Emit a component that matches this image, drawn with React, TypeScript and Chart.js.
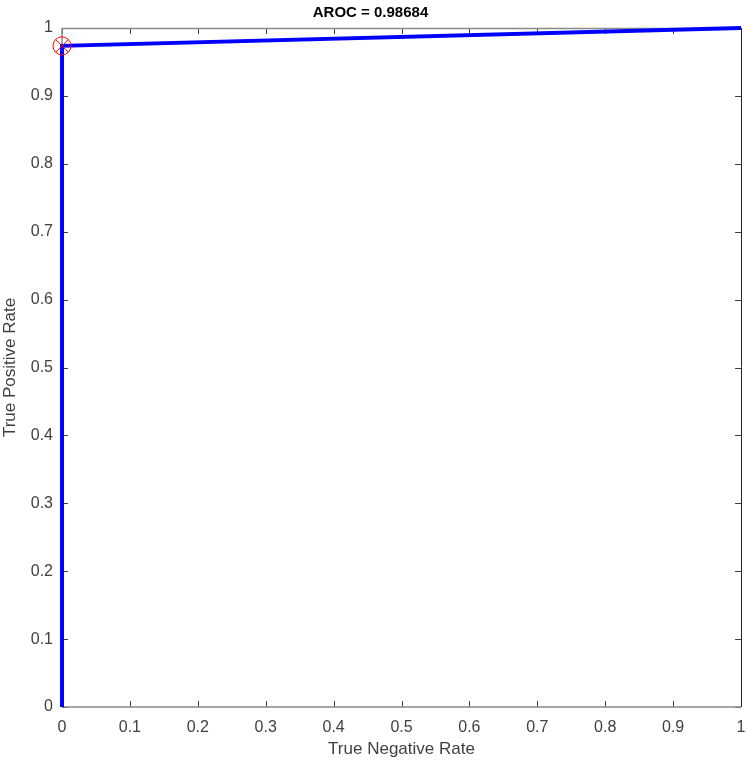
import React, { useEffect, useRef } from "react";
import { Chart, registerables } from "chart.js";

Chart.register(...registerables);

const titleText = "AROC = 0.98684";
const xLabel = "True Negative Rate";
const yLabel = "True Positive Rate";
const rocX = [0, 0, 1];
const rocY = [0, 0.97368, 1];
const markerX = [0];
const markerY = [0.97368];
const tickValues = [0, 0.1, 0.2, 0.3, 0.4, 0.5, 0.6, 0.7, 0.8, 0.9, 1];

const boxPlugin = {
  id: "matlabBox",
  beforeDatasetsDraw(chart: any) {
    const { ctx, chartArea, scales } = chart;
    const { left, right, top, bottom } = chartArea;
    const xs = scales.x;
    const ys = scales.y;
    ctx.save();
    ctx.lineWidth = 1;
    ctx.strokeStyle = "#404040";
    ctx.beginPath();
    tickValues.forEach((v) => {
      const px = Math.round(xs.getPixelForValue(v)) + 0.5;
      ctx.moveTo(px, bottom);
      ctx.lineTo(px, bottom - 6);
      ctx.moveTo(px, top);
      ctx.lineTo(px, top + 6);
      const py = Math.round(ys.getPixelForValue(v)) + 0.5;
      ctx.moveTo(left, py);
      ctx.lineTo(left + 6, py);
      ctx.moveTo(right, py);
      ctx.lineTo(right - 6, py);
    });
    ctx.stroke();
    ctx.strokeStyle = "#8a8a8a";
    ctx.lineWidth = 1.5;
    ctx.beginPath();
    ctx.moveTo(left, top + 0.5);
    ctx.lineTo(right, top + 0.5);
    ctx.moveTo(left, bottom);
    ctx.lineTo(right, bottom);
    ctx.moveTo(left, top);
    ctx.lineTo(left, bottom);
    ctx.stroke();
    ctx.strokeStyle = "#262626";
    ctx.lineWidth = 1;
    ctx.beginPath();
    ctx.moveTo(right + 0.5, top);
    ctx.lineTo(right + 0.5, bottom);
    ctx.stroke();
    ctx.restore();
  },
};

export default function App() {
  const ref = useRef<HTMLCanvasElement | null>(null);
  useEffect(() => {
    if (!ref.current) return;
    const font = "'Liberation Sans', Arial, Helvetica, sans-serif";
    const chart = new Chart(ref.current, {
      type: "scatter",
      data: {
        datasets: [
          {
            data: rocX.map((x, i) => ({ x, y: rocY[i] })),
            showLine: true,
            borderColor: "#0000ff",
            borderWidth: 4,
            pointRadius: 0,
            fill: false,
            clip: false,
            order: 2,
          } as any,
          {
            data: markerX.map((x, i) => ({ x, y: markerY[i] })),
            showLine: false,
            pointStyle: "circle",
            pointRadius: 9,
            borderColor: "#ff0000",
            backgroundColor: "rgba(0,0,0,0)",
            borderWidth: 1,
            clip: false,
            order: 1,
          },
          {
            data: markerX.map((x, i) => ({ x, y: markerY[i] })),
            showLine: false,
            pointStyle: "crossRot",
            pointRadius: 9,
            borderColor: "#ff0000",
            backgroundColor: "rgba(0,0,0,0)",
            borderWidth: 1,
            clip: false,
            order: 0,
          },
        ],
      },
      options: {
        animation: false,
        responsive: false,
        events: [],
        layout: { autoPadding: false, padding: { left: 0, right: 6, top: 0, bottom: 0 } },
        plugins: {
          legend: { display: false },
          tooltip: { enabled: false },
          title: {
            display: true,
            text: titleText,
            color: "#000000",
            font: { family: font, size: 15, weight: "bold", lineHeight: 1.2 },
            padding: { top: 4, bottom: 6 },
          },
        },
        scales: {
          x: {
            type: "linear",
            min: 0,
            max: 1,
            afterFit: (s: any) => {
              s.height = 63;
              s.paddingLeft = 0;
              s.paddingRight = 0;
            },
            afterBuildTicks: (s: any) => {
              s.ticks = tickValues.map((v) => ({ value: v }));
            },
            grid: { display: false, drawTicks: false },
            border: { display: false },
            ticks: {
              color: "#404040",
              font: { family: font, size: 16 },
              padding: 11,
              maxRotation: 0,
              autoSkip: false,
              callback: (v: any) => String(v),
            },
            title: {
              display: true,
              text: xLabel,
              color: "#404040",
              font: { family: font, size: 17 },
              padding: { top: 0, bottom: 10 },
            },
          },
          y: {
            type: "linear",
            min: 0,
            max: 1,
            afterFit: (s: any) => {
              s.width = 62;
              s.paddingTop = 0;
              s.paddingBottom = 0;
            },
            afterBuildTicks: (s: any) => {
              s.ticks = tickValues.map((v) => ({ value: v }));
            },
            grid: { display: false, drawTicks: false },
            border: { display: false },
            ticks: {
              color: "#404040",
              font: { family: font, size: 16 },
              padding: 9,
              autoSkip: false,
              callback: (v: any) => String(v),
            },
            title: {
              display: true,
              text: yLabel,
              color: "#404040",
              font: { family: font, size: 17 },
              padding: { top: 0, bottom: 5 },
            },
          },
        },
      },
      plugins: [boxPlugin],
    } as any);
    return () => chart.destroy();
  }, []);
  return (
    <div style={{ position: "absolute", left: 0, top: 0, width: 747, height: 770, background: "#ffffff" }}>
      <canvas ref={ref} width={747} height={770} style={{ display: "block" }} />
    </div>
  );
}
